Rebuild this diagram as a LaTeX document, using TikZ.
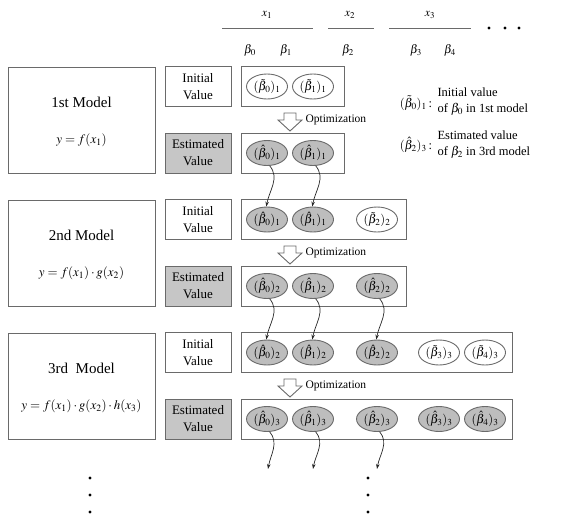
\documentclass[tikz,border=0pt]{standalone}
\usepackage{mathptmx}
\usepackage{fontspec}
\setmainfont{Liberation Serif}
\usetikzlibrary{shapes.geometric,arrows.meta}
\definecolor{edge}{HTML}{6A6A6A}
\definecolor{shade}{HTML}{C6C6C6}
\definecolor{oval}{HTML}{BDBDBD}
\tikzset{
  frame/.style={draw=edge,line width=1pt,inner sep=0pt},
  labbox/.style={frame,minimum width=66pt,minimum height=40pt,align=center,
    font=\fontsize{13}{17}\selectfont},
  estbox/.style={labbox,fill=shade},
  ini/.style={ellipse,draw=edge,line width=0.9pt,minimum width=41pt,
    minimum height=25pt,inner sep=0pt,font=\fontsize{12.5}{14}\selectfont},
  est/.style={ini,fill=oval},
  conn/.style={-{Stealth[length=5pt,width=3.5pt]},line width=0.7pt,black!85},
  carry/.style={conn,out=-50,in=80},
  dotmark/.style={circle,fill=black,inner sep=0pt,minimum size=3.2pt},
  opt/.style={draw=edge,line width=0.9pt,fill=white},
  head/.style={font=\fontsize{12}{14}\selectfont},
  optfont/.style={font=\fontsize{11.5}{13}\selectfont},
  modeltxt/.style={font=\fontsize{15}{17}\selectfont},
  keytxt/.style={font=\fontsize{12.5}{16}\selectfont},
}
\begin{document}
\begin{tikzpicture}[x=1pt,y=-1pt]
\useasboundingbox (0,0) rectangle (568,517);

% column headings
\node[head] (hx1) at (267,15) {$x_1$};
\node[head] (hx2) at (350,15) {$x_2$};
\node[head] (hx3) at (430,15) {$x_3$};
\coordinate (l1a) at (222,28); \coordinate (l1b) at (313,28);
\coordinate (l2a) at (328,28); \coordinate (l2b) at (374,28);
\coordinate (l3a) at (389,28); \coordinate (l3b) at (471,28);
\draw[edge,line width=1pt] (l1a) -- (l1b) (l2a) -- (l2b) (l3a) -- (l3b);
\node[head] (hb0) at (250,50) {$\beta_0$};
\node[head] (hb1) at (286,50) {$\beta_1$};
\node[head] (hb2) at (348,50) {$\beta_2$};
\node[head] (hb3) at (416,50) {$\beta_3$};
\node[head] (hb4) at (450,50) {$\beta_4$};
\node[dotmark] (hd1) at (489,28) {};
\node[dotmark] (hd2) at (505,28) {};
\node[dotmark] (hd3) at (519,28) {};

% one row per model: T = top edge of the row
\foreach \r/\T/\R/\name/\eq in {
  1/67/344/1st Model/{$y=f(x_1)$},
  2/200/406/2nd Model/{$y=f(x_1)\cdot g(x_2)$},
  3/333/512/3rd\enspace Model/{$y=f(x_1)\cdot g(x_2)\cdot h(x_3)$}}{
  \node[frame,minimum width=147pt,minimum height=106pt] (model\r) at (81.5,\T+53) {};
  \node[modeltxt] (mname\r) at (81.5,\T+35) {\name};
  \node[font=\fontsize{13}{15}\selectfont] (meq\r) at (81.5,\T+73) {\eq};
  \node[labbox] (inilab\r) at (198,\T+19.5) {Initial\\Value};
  \node[estbox] (estlab\r) at (198,\T+86) {Estimated\\Value};
  \node[frame,minimum width=\R-241,minimum height=40pt] (inirow\r) at ({(241+\R)/2},\T+19.5) {};
  \node[frame,minimum width=\R-241,minimum height=40pt] (estrow\r) at ({(241+\R)/2},\T+86) {};
  % optimization arrow
  \draw[opt] (284,\T+46) -- (296,\T+46) -- (296,\T+53) -- (302,\T+53)
    -- (290,\T+64) -- (278,\T+53) -- (284,\T+53) -- cycle;
  \node[optfont,anchor=west] (optlab\r) at (302,\T+53) {Optimization};
}

% row 1 parameters
\node[ini] (i1b0) at (267,86.5) {$(\tilde\beta_0)_1$};
\node[ini] (i1b1) at (313,86.5) {$(\tilde\beta_1)_1$};
\node[est] (e1b0) at (267,153) {$(\hat\beta_0)_1$};
\node[est] (e1b1) at (313,153) {$(\hat\beta_1)_1$};

% row 2 parameters
\node[est] (i2b0) at (267,219.5) {$(\hat\beta_0)_1$};
\node[est] (i2b1) at (313,219.5) {$(\hat\beta_1)_1$};
\node[ini] (i2b2) at (377,219.5) {$(\tilde\beta_2)_2$};
\node[est] (e2b0) at (267,286) {$(\hat\beta_0)_2$};
\node[est] (e2b1) at (313,286) {$(\hat\beta_1)_2$};
\node[est] (e2b2) at (377,286) {$(\hat\beta_2)_2$};

% row 3 parameters
\node[est] (i3b0) at (267,352.5) {$(\hat\beta_0)_2$};
\node[est] (i3b1) at (313,352.5) {$(\hat\beta_1)_2$};
\node[est] (i3b2) at (377,352.5) {$(\hat\beta_2)_2$};
\node[ini] (i3b3) at (439,352.5) {$(\tilde\beta_3)_3$};
\node[ini] (i3b4) at (485,352.5) {$(\tilde\beta_4)_3$};
\node[est] (e3b0) at (267,419) {$(\hat\beta_0)_3$};
\node[est] (e3b1) at (313,419) {$(\hat\beta_1)_3$};
\node[est] (e3b2) at (377,419) {$(\hat\beta_2)_3$};
\node[est] (e3b3) at (439,419) {$(\hat\beta_3)_3$};
\node[est] (e3b4) at (485,419) {$(\hat\beta_4)_3$};

% estimates carried into the next model
\draw[carry] (e1b0.-78) to (i2b0.93);
\draw[carry] (e1b1.-78) to (i2b1.93);
\draw[carry] (e2b0.-78) to (i3b0.93);
\draw[carry] (e2b1.-78) to (i3b1.93);
\draw[carry] (e2b2.-78) to (i3b2.93);
\coordinate (n0) at (268,469);
\coordinate (n1) at (313,469);
\coordinate (n2) at (377,469);
\draw[carry] (e3b0.-78) to (n0);
\draw[carry] (e3b1.-78) to (n1);
\draw[carry] (e3b2.-78) to (n2);

% continuation dots
\foreach \k/\y in {1/478,2/495,3/512}{
  \node[dotmark] (ld\k) at (90,\y) {};
  \node[dotmark] (rd\k) at (368,\y) {};
}

% legend
\node[keytxt] (key1) at (416,103) {$(\tilde\beta_0)_1$\,:};
\node[keytxt,anchor=west,align=left] (key1t) at (434,102)
  {Initial value\\of $\beta_0$ in 1st model};
\node[keytxt] (key2) at (416,145) {$(\hat\beta_2)_3$\,:};
\node[keytxt,anchor=west,align=left] (key2t) at (434,145)
  {Estimated value\\of $\beta_2$ in 3rd model};
\end{tikzpicture}
\end{document}
